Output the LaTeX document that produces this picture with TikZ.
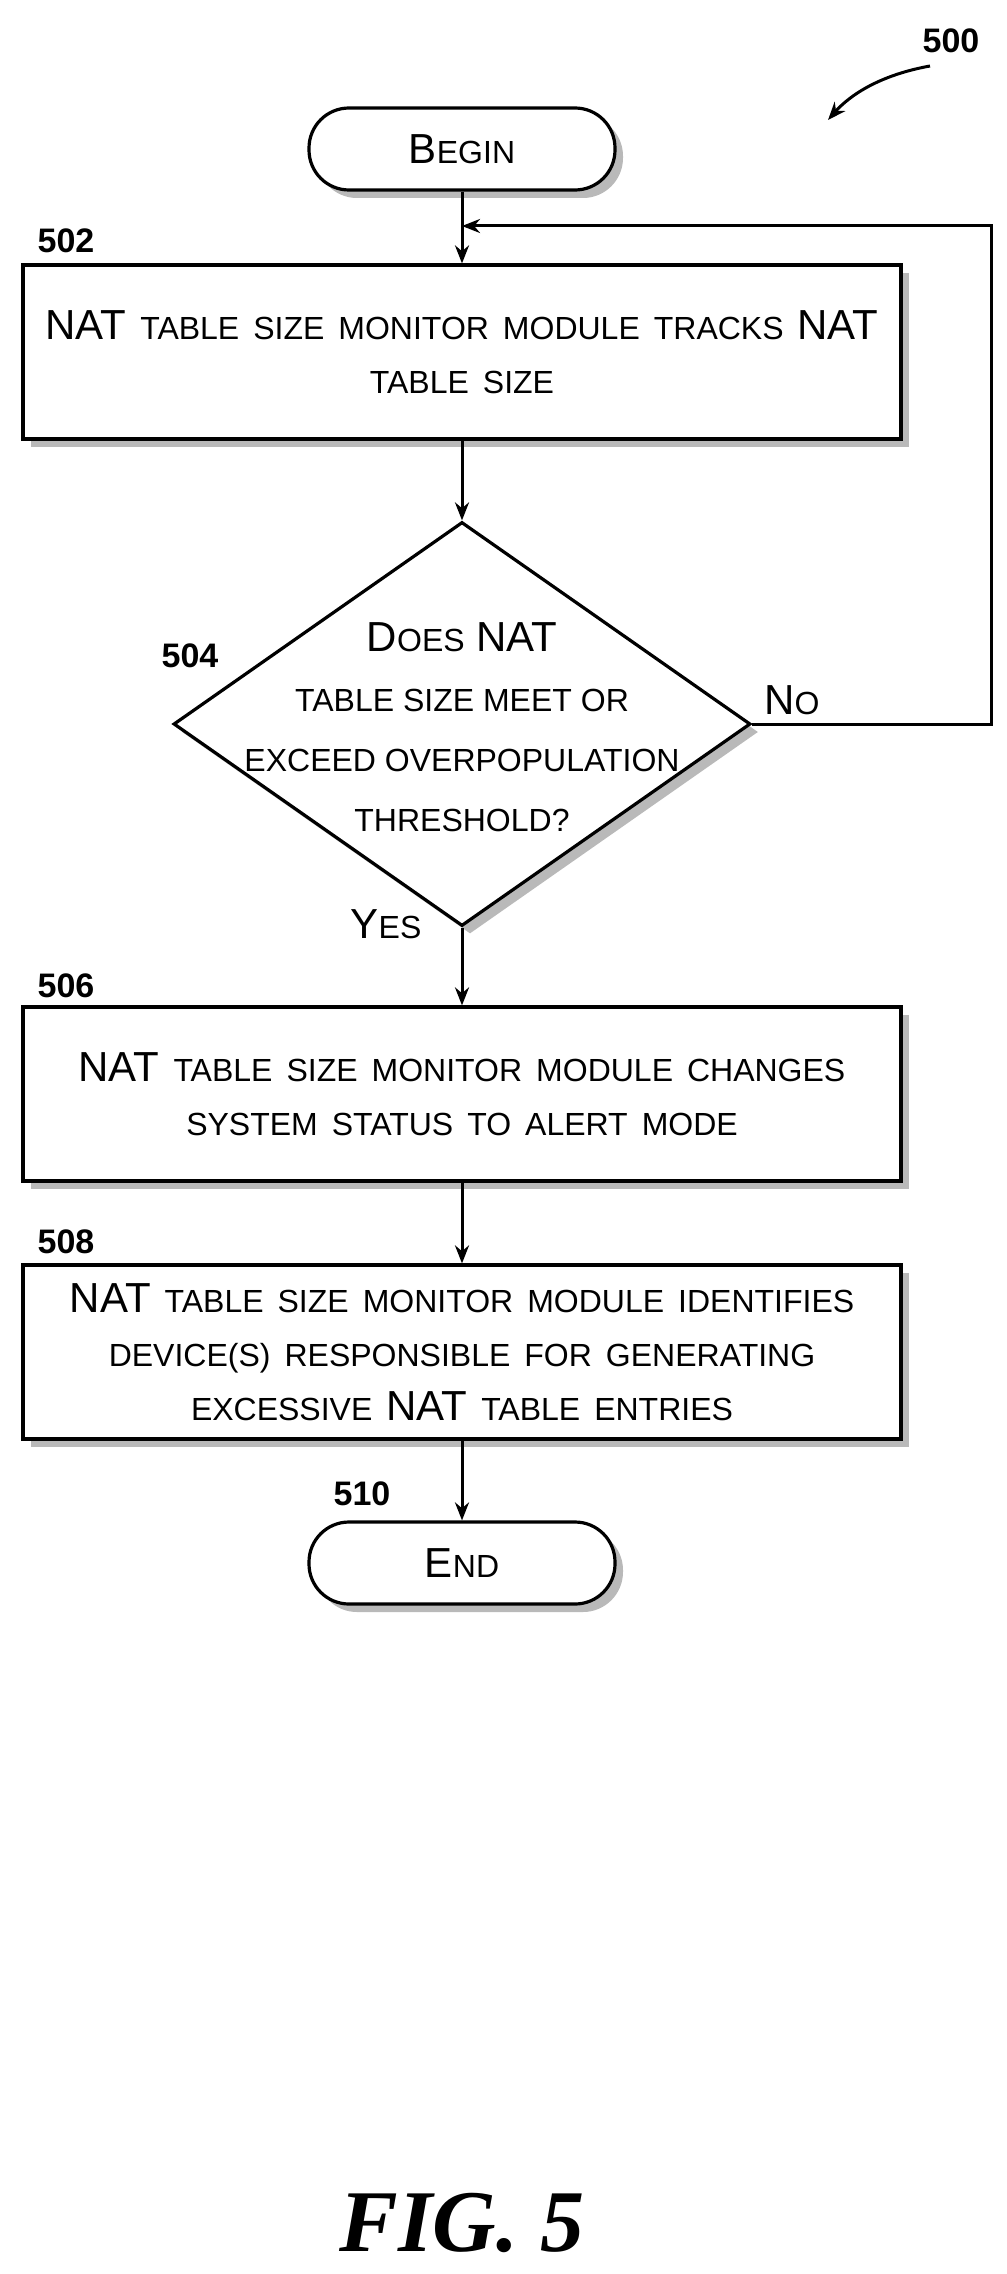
\documentclass[tikz,border=0pt]{standalone}
\usepackage{fontspec}
\setmainfont{Liberation Sans}
\newfontfamily\figfont{Liberation Serif}
\usetikzlibrary{shapes.geometric,shadows,arrows.meta}
\newcommand{\sm}[1]{{\fontsize{16}{19}\selectfont #1}}
\begin{document}
\begin{tikzpicture}[x=0.5pt,y=-0.5pt,
  every node/.style={font=\fontsize{21}{27}\selectfont},
  sh/.style={drop shadow={shadow xshift=4pt,shadow yshift=-4pt,fill=gray!55,opacity=1}},
  box/.style={draw,line width=1.6pt,fill=white,sh,minimum width=439pt,minimum height=87pt,text width=425pt,align=center,inner sep=0pt},
  term/.style={draw,line width=1.6pt,fill=white,sh,rounded corners=20pt,minimum width=153pt,minimum height=41pt,inner sep=0pt},
  dia/.style={draw,line width=1.6pt,fill=white,sh,diamond,minimum width=288.5pt,minimum height=202pt,inner sep=0pt},
  lab/.style={font=\bfseries\fontsize{17}{20}\selectfont},
  arr/.style={line width=1.5pt,-{Stealth[length=9pt,width=7pt]}}]
\useasboundingbox (0,0) rectangle (1006,2274);
\node[term] (begin) at (462,149) {B\sm{EGIN}};
\node[box] (b502) at (462,352) {NAT \sm{TABLE SIZE MONITOR MODULE TRACKS} NAT\\\sm{TABLE SIZE}};
\node[dia] (d504) at (462,724) {};
\node[align=center,font=\fontsize{21}{30}\selectfont] (t504) at (462,727) {D\sm{OES} NAT\\\sm{TABLE SIZE MEET OR}\\\sm{EXCEED OVERPOPULATION}\\\sm{THRESHOLD?}};
\node[box] (b506) at (462,1094) {NAT \sm{TABLE SIZE MONITOR MODULE CHANGES}\\\sm{SYSTEM STATUS TO ALERT MODE}};
\node[box] (b508) at (462,1352) {NAT \sm{TABLE SIZE MONITOR MODULE IDENTIFIES}\\\sm{DEVICE(S) RESPONSIBLE FOR GENERATING}\\\sm{EXCESSIVE} NAT \sm{TABLE ENTRIES}};
\node[term] (end) at (462,1563) {E\sm{ND}};
\node[lab] (l502) at (66,241) {502};
\node[lab] (l504) at (190,656) {504};
\node[lab] (l506) at (66,986) {506};
\node[lab] (l508) at (66,1242) {508};
\node[lab] (l510) at (362,1494) {510};
\node[lab] (l500) at (951,41) {500};
\node (no) at (792,700) {N\sm{O}};
\node (yes) at (386,924) {Y\sm{ES}};
\coordinate (c1) at (991,724);
\coordinate (c2) at (991,226);
\coordinate (c3) at (462,226);
\draw[arr] (begin) -- (b502);
\draw[arr] (b502) -- (d504.north);
\draw[arr] (d504.east) -- (c1) -- (c2) -- (c3);
\draw[arr] (d504.south) -- (b506);
\draw[arr] (b506) -- (b508);
\draw[arr] (b508) -- (end);
\coordinate (a0) at (930,66);
\draw[arr] (a0) .. controls (880,75) and (850,95) .. (828,120);
\node[font=\figfont\bfseries\itshape\fontsize{44}{50}\selectfont] (fig) at (462,2223) {FIG. 5};
\end{tikzpicture}
\end{document}
